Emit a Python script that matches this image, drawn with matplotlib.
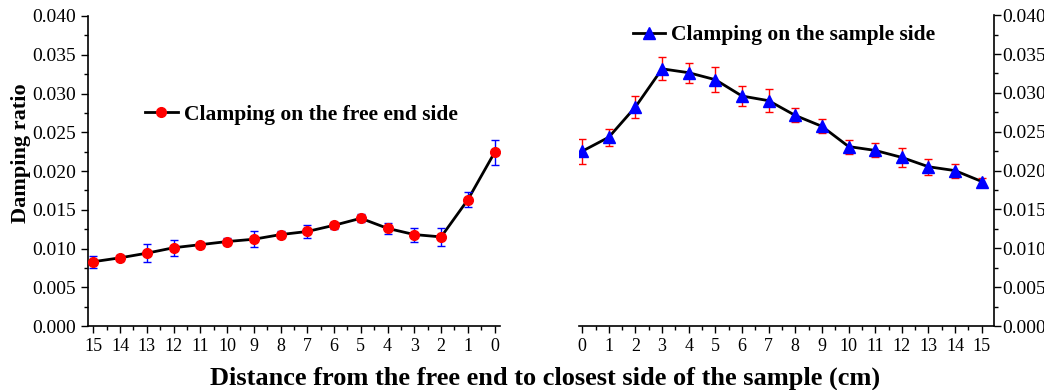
import matplotlib.pyplot as plt
from matplotlib.ticker import MultipleLocator, FormatStrFormatter

plt.rcParams['font.family'] = ['Liberation Serif', 'DejaVu Serif']

# distance (cm)
dist = list(range(16))

# clamping on the free end side (x = 0..15)
free_y = [0.0224, 0.0163, 0.0115, 0.0118, 0.0126, 0.0139, 0.0130, 0.0122,
          0.0118, 0.0112, 0.0109, 0.0105, 0.0101, 0.0094, 0.0088, 0.0083]
free_err = [0.0016, 0.0010, 0.0012, 0.0009, 0.0007, 0.00054, 0.00048, 0.00085,
            0.00045, 0.0010, 0.0005, 0.0004, 0.0010, 0.00115, 0.0004, 0.0008]

# clamping on the sample side (x = 0..15)
samp_y = [0.0225, 0.0243, 0.0282, 0.0331, 0.0326, 0.0317, 0.0296, 0.0290,
          0.0271, 0.0257, 0.0231, 0.0226, 0.0217, 0.0205, 0.0200, 0.0186]
samp_err = [0.0016, 0.0011, 0.0014, 0.0015, 0.0013, 0.0016, 0.0013, 0.0015,
            0.0009, 0.0009, 0.0009, 0.0009, 0.0012, 0.0010, 0.0009, 0.0004]

fig = plt.figure(figsize=(10.44, 3.9), dpi=100)
ax1 = fig.add_axes([0.0843, 0.164, 0.3946, 0.795])
ax2 = fig.add_axes([0.5546, 0.164, 0.3975, 0.797])

ax1.plot(dist, free_y, color='black', lw=2, zorder=1)
ax1.errorbar(dist, free_y, yerr=free_err, fmt='none', ecolor='blue',
             elinewidth=1, capsize=3, capthick=1, zorder=2)
ax1.plot(dist, free_y, 'o', ms=7, mfc='red', mec='red', zorder=3)
ax1.plot([], [], color='black', lw=2, marker='o', ms=7, mfc='red', mec='red',
         label='Clamping on the free end side')

ax2.plot(dist, samp_y, color='black', lw=2, zorder=1)
ax2.errorbar(dist, samp_y, yerr=samp_err, fmt='none', ecolor='red',
             elinewidth=1, capsize=3, capthick=1, zorder=2)
ax2.plot(dist, samp_y, '^', ms=8, mfc='blue', mec='blue', zorder=3)
ax2.plot([], [], color='black', lw=2, marker='^', ms=8, mfc='blue', mec='blue',
         label='Clamping on the sample side')

for ax in (ax1, ax2):
    ax.set_ylim(0, 0.040)
    ax.yaxis.set_major_locator(MultipleLocator(0.005))
    ax.yaxis.set_minor_locator(MultipleLocator(0.0025))
    ax.yaxis.set_major_formatter(FormatStrFormatter('%.3f'))
    ax.xaxis.set_major_locator(MultipleLocator(1))
    ax.xaxis.set_minor_locator(MultipleLocator(0.5))
    ax.tick_params(which='both', direction='out', width=1)
    ax.tick_params(axis='y', labelsize=14)
    ax.tick_params(axis='x', labelsize=13)
    ax.tick_params(which='major', length=5)
    ax.tick_params(which='minor', length=3)
    ax.spines['top'].set_visible(False)
    for s in ax.spines.values():
        s.set_linewidth(1.2)

ax1.set_xlim(15.2, -0.2)
ax1.spines['right'].set_visible(False)

ax2.set_xlim(-0.12, 15.46)
ax2.spines['left'].set_visible(False)
ax2.yaxis.tick_right()
ax2.tick_params(axis='y', which='both', pad=1)

ax1.set_ylabel('Damping ratio', fontsize=16, fontweight='bold')
ax1.yaxis.set_label_coords(-0.138, 0.558)

leg_font = {'size': 15.5, 'weight': 'bold'}
ax1.legend(loc='center left', bbox_to_anchor=(0.113, 0.681), frameon=False,
           prop=leg_font, borderpad=0, handlelength=1.5, handletextpad=0.3)
ax2.legend(loc='center left', bbox_to_anchor=(0.103, 0.936), frameon=False,
           prop=leg_font, borderpad=0, handlelength=1.5, handletextpad=0.3)

fig.text(0.522, 0.03, 'Distance from the free end to closest side of the sample (cm)',
         ha='center', va='center', fontsize=19, fontweight='bold')

fig.savefig('out.png', dpi=100)
